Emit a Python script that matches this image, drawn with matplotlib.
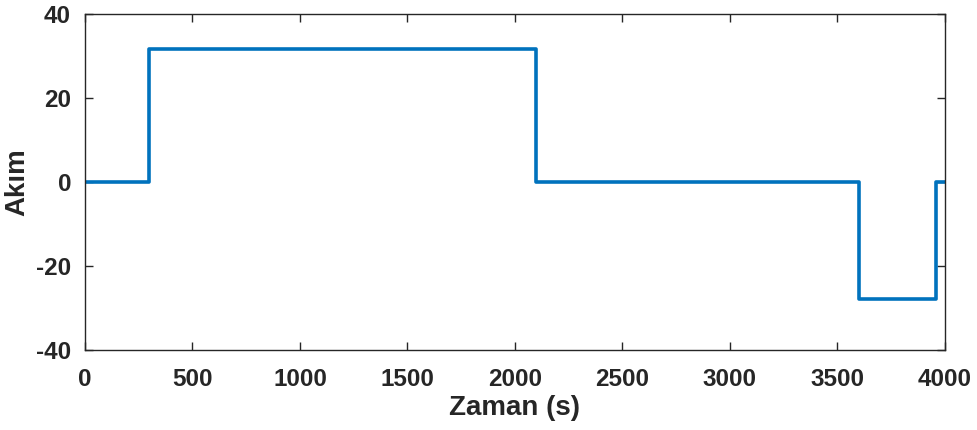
import matplotlib
matplotlib.use("Agg")
import matplotlib.pyplot as plt
import numpy as np

plt.rcParams["font.family"] = ["Liberation Sans", "DejaVu Sans"]
plt.rcParams["font.weight"] = "bold"
plt.rcParams["axes.unicode_minus"] = False

# Datos del escalón de corriente
t = [0, 300, 300, 2100, 2100, 3600, 3600, 3960, 3960, 4000]
akim = [0, 0, 31.6, 31.6, 0, 0, -27.8, -27.8, 0, 0]

fig = plt.figure(figsize=(9.77, 4.30), dpi=100)
ax = fig.add_axes([0.087, 0.186, 0.880, 0.781])

ax.plot(t, akim, color="#0072BD", linewidth=2.6)

ax.set_xlim(0, 4000)
ax.set_ylim(-40, 40)
ax.set_xticks(np.arange(0, 4001, 500))
ax.set_yticks(np.arange(-40, 41, 20))

ax.set_xlabel("Zaman (s)", fontsize=20, fontweight="bold", color="#262626", labelpad=3)
ax.set_ylabel("Akım", fontsize=20, fontweight="bold", color="#262626")
ax.yaxis.set_label_coords(-0.064, 0.5)

ax.tick_params(direction="in", top=True, right=True, length=6, width=1,
               labelsize=17.5, colors="#262626")
ax.tick_params(axis="x", pad=13)
ax.tick_params(axis="y", pad=10)
for lbl in ax.get_xticklabels() + ax.get_yticklabels():
    lbl.set_fontweight("bold")

for spine in ax.spines.values():
    spine.set_edgecolor("#262626")
    spine.set_linewidth(1)

plt.savefig("out.png", dpi=100)
